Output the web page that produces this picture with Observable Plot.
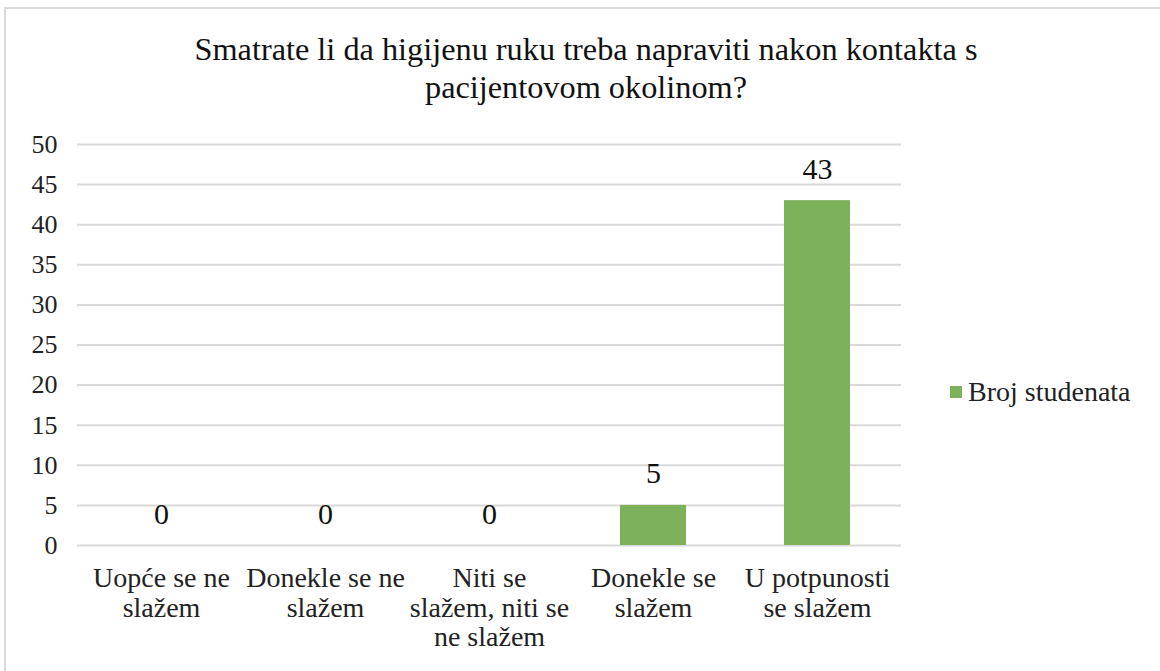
<!DOCTYPE html>
<html>
<head>
<meta charset="utf-8">
<script src="https://cdn.jsdelivr.net/npm/d3@7"></script>
<script src="https://cdn.jsdelivr.net/npm/@observablehq/plot@0.6"></script>
<style>
  body { margin: 0; background: #fff; width: 1160px; height: 671px; overflow: hidden; position: relative; font-family: 'Liberation Serif', 'Times New Roman', serif; }
  #frame { position: absolute; left: 4px; top: 7px; width: 1200px; height: 700px; border: 2px solid #d9d9d9; box-sizing: border-box; }
  #title { position: absolute; left: 136px; width: 900px; top: 30px; text-align: center; font-size: 32.3px; line-height: 38px; color: #111; }
  #chart { position: absolute; left: 0; top: 120px; }
  #legend { position: absolute; left: 950px; top: 376px; font-size: 28px; color: #222; display: flex; align-items: center; }
  #legend .sw { width: 12px; height: 12px; background: #7eb25a; margin-right: 6px; }
</style>
</head>
<body>
<div id="frame"></div>
<div id="title">Smatrate li da higijenu ruku treba napraviti nakon kontakta s<br>pacijentovom okolinom?</div>
<div id="chart"></div>
<div id="legend"><span class="sw"></span><span>Broj studenata</span></div>
<script>
const categories = ["Uopće se ne slažem", "Donekle se ne slažem", "Niti se slažem, niti se ne slažem", "Donekle se slažem", "U potpunosti se slažem"];
const categoryLabels = ["Uopće se ne\nslažem", "Donekle se ne\nslažem", "Niti se\nslažem, niti se\nne slažem", "Donekle se\nslažem", "U potpunosti\nse slažem"];
const values = [0, 0, 0, 5, 43];
const yTicks = [0, 5, 10, 15, 20, 25, 30, 35, 40, 45, 50];
const seriesName = "Broj studenata";
const barColor = "#7eb25a";

const data = categories.map((c, i) => ({cat: c, value: values[i]}));
const labelOf = new Map(categories.map((c, i) => [c, categoryLabels[i]]));

const chart = Plot.plot({
  width: 1160,
  height: 551,
  marginLeft: 77,
  marginRight: 259,
  marginTop: 24,
  marginBottom: 126,
  style: {fontFamily: "'Liberation Serif', 'Times New Roman', serif", color: "#222", background: "transparent"},
  x: {domain: categories, paddingInner: 0.6, paddingOuter: 0.3, label: null},
  y: {domain: [0, 50], label: null},
  marks: [
    Plot.ruleY(yTicks, {stroke: "#d9d9d9", strokeWidth: 2, strokeOpacity: 1}),
    Plot.barY(data, {x: "cat", y: "value", fill: barColor}),
    Plot.text(data, {x: "cat", y: "value", text: d => String(d.value), dy: -22, lineAnchor: "bottom", fontSize: 30, fill: "#111"}),
    Plot.axisY({ticks: yTicks, tickSize: 0, tickPadding: 20, fontSize: 26, label: null}),
    Plot.axisX({tickSize: 0, tickPadding: 21, fontSize: 28, lineHeight: 1.05, tickFormat: d => labelOf.get(d), label: null})
  ]
});
document.getElementById("chart").appendChild(chart);
</script>
</body>
</html>
